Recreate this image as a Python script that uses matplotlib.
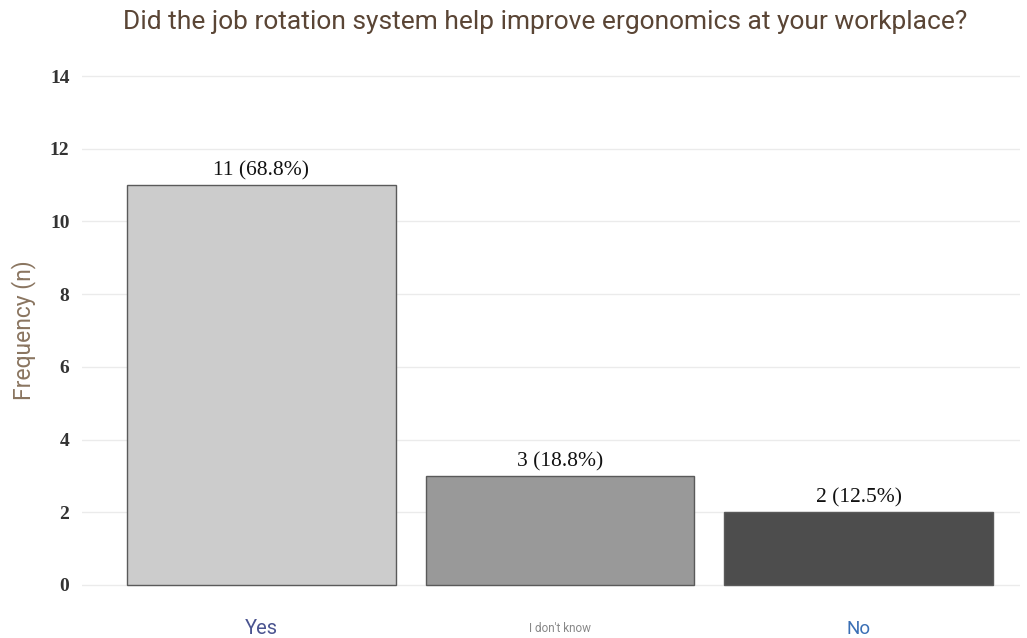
import matplotlib.pyplot as plt

# data
categories = ['Yes', "I don't know", 'No']
counts = [11, 3, 2]
percents = [68.8, 18.8, 12.5]
bar_colors = ['#cccccc', '#999999', '#4d4d4d']
yticks = [0, 2, 4, 6, 8, 10, 12, 14]

W, H = 1027, 638
fig = plt.figure(figsize=(W / 100, H / 100), dpi=100)
fig.patch.set_facecolor('white')

# axes placed in pixel terms
left, right, top, bottom = 82, 1020, 71, 590
ax = fig.add_axes([left / W, 1 - bottom / H, (right - left) / W, (bottom - top) / H])

x = list(range(len(categories)))
ax.bar(x, counts, width=0.9, color=bar_colors, edgecolor='#5a5a5a', linewidth=1.0, zorder=3)

for xi, c, p in zip(x, counts, percents):
    ax.text(xi, c + 0.13, f'{c} ({p}%)', ha='center', va='bottom',
            fontsize=15.5, family='Liberation Serif', color='#111111', zorder=4)

ax.set_xlim(-0.6, 2.54)
ax.set_ylim(-0.14, 14.14)
ax.set_yticks(yticks)
ax.set_yticklabels([str(t) for t in yticks], family='Liberation Serif',
                   fontsize=14, fontweight='bold', color='#333333')
ax.grid(axis='y', color='#ebebeb', linewidth=1.0, zorder=0)
ax.tick_params(axis='both', length=0)
ax.tick_params(axis='y', pad=9)
for s in ax.spines.values():
    s.set_visible(False)

ax.set_xticks(x)
ax.set_xticklabels([])
label_styles = [
    dict(fontsize=14.5, color='#4a5490'),
    dict(fontsize=8.5, color='#888888'),
    dict(fontsize=13.5, color='#3a6fb5'),
]
for xi, lab, st in zip(x, categories, label_styles):
    ax.text(xi, -1.2, lab, ha='center', va='center', family='Roboto', **st)

ax.set_ylabel('Frequency (n)', fontsize=16.5, color='#8a7560', family='Roboto', labelpad=10)

fig.text(545 / W, 1 - 22 / H, 'Did the job rotation system help improve ergonomics at your workplace?',
         ha='center', va='center', fontsize=19, color='#5a4535', family='Roboto')

fig.savefig('out.png', dpi=100)
